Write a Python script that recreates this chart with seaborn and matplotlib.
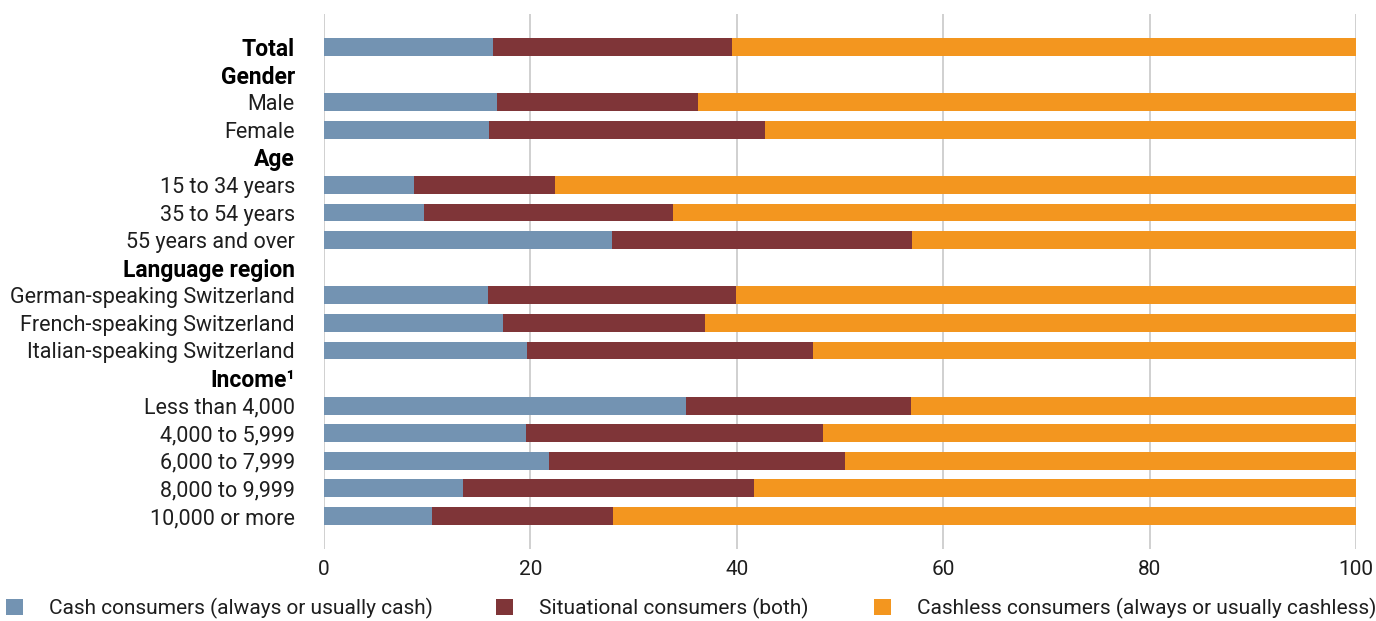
import numpy as np
import pandas as pd
import matplotlib
matplotlib.use("Agg")
import matplotlib.pyplot as plt
from matplotlib.patches import Patch
import seaborn as sns

# ---- data ----
labels = ["Total", "Gender", "Male", "Female", "Age", "15 to 34 years", "35 to 54 years",
          "55 years and over", "Language region", "German-speaking Switzerland",
          "French-speaking Switzerland", "Italian-speaking Switzerland", "Income\u00b9",
          "Less than 4,000", "4,000 to 5,999", "6,000 to 7,999", "8,000 to 9,999", "10,000 or more"]
headers = ["Total", "Gender", "Age", "Language region", "Income\u00b9"]
cash = [16.4, 0, 16.8, 16.0, 0, 8.7, 9.7, 27.9, 0, 15.9, 17.3, 19.7, 0, 35.1, 19.6, 21.8, 13.5, 10.5]
situational = [23.1, 0, 19.4, 26.7, 0, 13.7, 24.1, 29.1, 0, 24.0, 19.6, 27.7, 0, 21.8, 28.8, 28.7, 28.2, 17.5]
cashless = [60.5, 0, 63.8, 57.3, 0, 77.6, 66.2, 43.0, 0, 60.1, 63.1, 52.6, 0, 43.1, 51.6, 49.5, 58.3, 72.0]
series_names = ["Cash consumers (always or usually cash)",
                "Situational consumers (both)",
                "Cashless consumers (always or usually cashless)"]
xticks = [0, 20, 40, 60, 80, 100]

colors = ["#7393b2", "#7f3538", "#f3961f"]
TXT = "#1e1e1e"

sns.set_theme(style="white")
plt.rcParams["font.family"] = ["Roboto", "DejaVu Sans"]

df = pd.DataFrame({"label": labels, "cash": cash, "situational": situational, "cashless": cashless})
df["c1"] = df["cash"]
df["c2"] = df["cash"] + df["situational"]
df["c3"] = df["c2"] + df["cashless"]

fig = plt.figure(figsize=(13.76, 6.21), dpi=100)
ax = fig.add_axes([324 / 1376, 1 - 549 / 621, (1356 - 324) / 1376, (549 - 14) / 621])

for col, c in zip(["c3", "c2", "c1"], colors[::-1]):
    sns.barplot(data=df, y="label", x=col, order=labels, orient="h", color=c,
                width=0.65, linewidth=0, saturation=1, ax=ax, errorbar=None, zorder=3)

ax.set_xlim(0, 100)
ax.set_ylim(17 + 1.196, -1.196)
ax.set_xticks(xticks)
ax.set_xticklabels([str(t) for t in xticks])
ax.xaxis.grid(True, color="#c8c8c8", linewidth=1.2, zorder=0)
ax.yaxis.grid(False)
for s in ax.spines.values():
    s.set_visible(False)
ax.set_xlabel("")
ax.set_ylabel("")
ax.tick_params(axis="x", length=0, pad=8, labelsize=15, colors=TXT)
ax.tick_params(axis="y", length=0, pad=21, labelsize=15.5)
for t in ax.get_yticklabels():
    if t.get_text() in headers:
        t.set_fontweight("bold")
        t.set_fontsize(16.5)
        t.set_color("black")
    else:
        t.set_fontweight("normal")
        t.set_color(TXT)

# legend: three entries placed along the bottom
xs = [0.0, 490 / 1376, 868 / 1376]
for name, c, x in zip(series_names, colors, xs):
    lg = fig.legend(handles=[Patch(facecolor=c, edgecolor="none")], labels=[name],
                    loc="center left", bbox_to_anchor=(x, 0.02), frameon=False,
                    handlelength=0.8, handleheight=0.8, handletextpad=1.25,
                    prop={"size": 15}, borderaxespad=0, borderpad=0.3)
    for t in lg.get_texts():
        t.set_color(TXT)

fig.savefig("out.png", dpi=100)
